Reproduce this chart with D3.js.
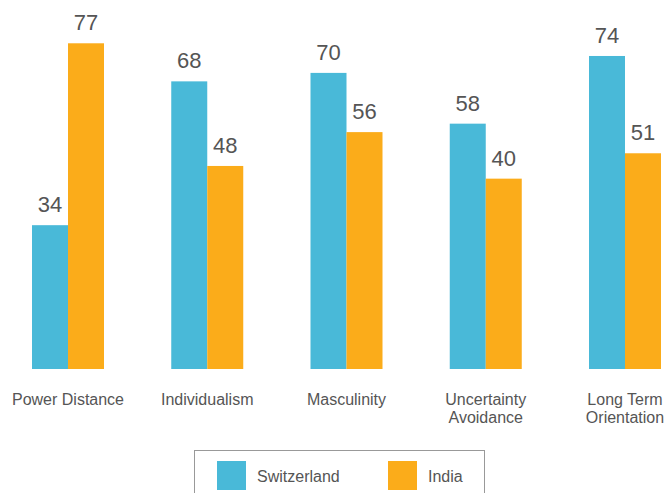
<!DOCTYPE html>
<html><head><meta charset="utf-8">
<script src="https://cdn.jsdelivr.net/npm/d3@7"></script>
<style>html,body{margin:0;padding:0;background:#fff;}svg{display:block;}</style>
</head><body>
<svg id="chart" width="668" height="493"></svg>
<script>
const categories = ["Power Distance", "Individualism", "Masculinity", "Uncertainty Avoidance", "Long Term Orientation"];
const categoryLines = [["Power Distance"], ["Individualism"], ["Masculinity"], ["Uncertainty", "Avoidance"], ["Long Term", "Orientation"]];
const seriesNames = ["Switzerland", "India"];
const switzerland = [34, 68, 70, 58, 74];
const india = [77, 48, 56, 45, 51]; // bar heights as drawn
const switzerlandLabels = ["34", "68", "70", "58", "74"];
const indiaLabels = ["77", "48", "56", "40", "51"];
const colors = ["#49B9D8", "#FBAC1A"];

const svg = d3.select("#chart");
const font = "'Liberation Sans', Arial, Helvetica, sans-serif";
const textColor = "#555555";

const x = d3.scalePoint().domain(categories).range([68, 625]);
const xs = d3.scaleBand().domain(seriesNames).range([-36, 36]);
const y = d3.scaleLinear().domain([0, 100]).range([369, 369 - 423]);

const series = [
  {name: "Switzerland", values: switzerland, labels: switzerlandLabels},
  {name: "India", values: india, labels: indiaLabels}
];

series.forEach((s, si) => {
  const g = svg.append("g");
  g.selectAll("rect").data(categories).join("rect")
    .attr("x", (c) => x(c) + xs(s.name))
    .attr("y", (c, i) => y(s.values[i]))
    .attr("width", xs.bandwidth())
    .attr("height", (c, i) => y(0) - y(s.values[i]))
    .attr("fill", colors[si]);
  g.selectAll("text").data(categories).join("text")
    .attr("x", (c) => x(c) + xs(s.name) + xs.bandwidth() / 2)
    .attr("y", (c, i) => y(s.values[i]) - 13)
    .attr("text-anchor", "middle")
    .attr("font-family", font)
    .attr("font-size", 22)
    .attr("fill", textColor)
    .text((c, i) => s.labels[i]);
});

// category labels
const cl = svg.append("g");
categories.forEach((c, i) => {
  const t = cl.append("text")
    .attr("x", x(c))
    .attr("y", 405)
    .attr("text-anchor", "middle")
    .attr("font-family", font)
    .attr("font-size", 16)
    .attr("fill", textColor);
  categoryLines[i].forEach((line, li) => {
    t.append("tspan").attr("x", x(c)).attr("dy", li === 0 ? 0 : 18).text(line);
  });
});

// legend
const lg = svg.append("g");
lg.append("rect").attr("x", 194.5).attr("y", 450.5).attr("width", 290).attr("height", 60)
  .attr("fill", "none").attr("stroke", "#999").attr("stroke-width", 1);
const legendX = [217, 388];
seriesNames.forEach((n, i) => {
  lg.append("rect").attr("x", legendX[i]).attr("y", 461).attr("width", 29).attr("height", 29).attr("fill", colors[i]);
  lg.append("text").attr("x", legendX[i] + 40).attr("y", 482)
    .attr("font-family", font).attr("font-size", 16).attr("fill", textColor).text(n);
});
</script>
</body></html>
